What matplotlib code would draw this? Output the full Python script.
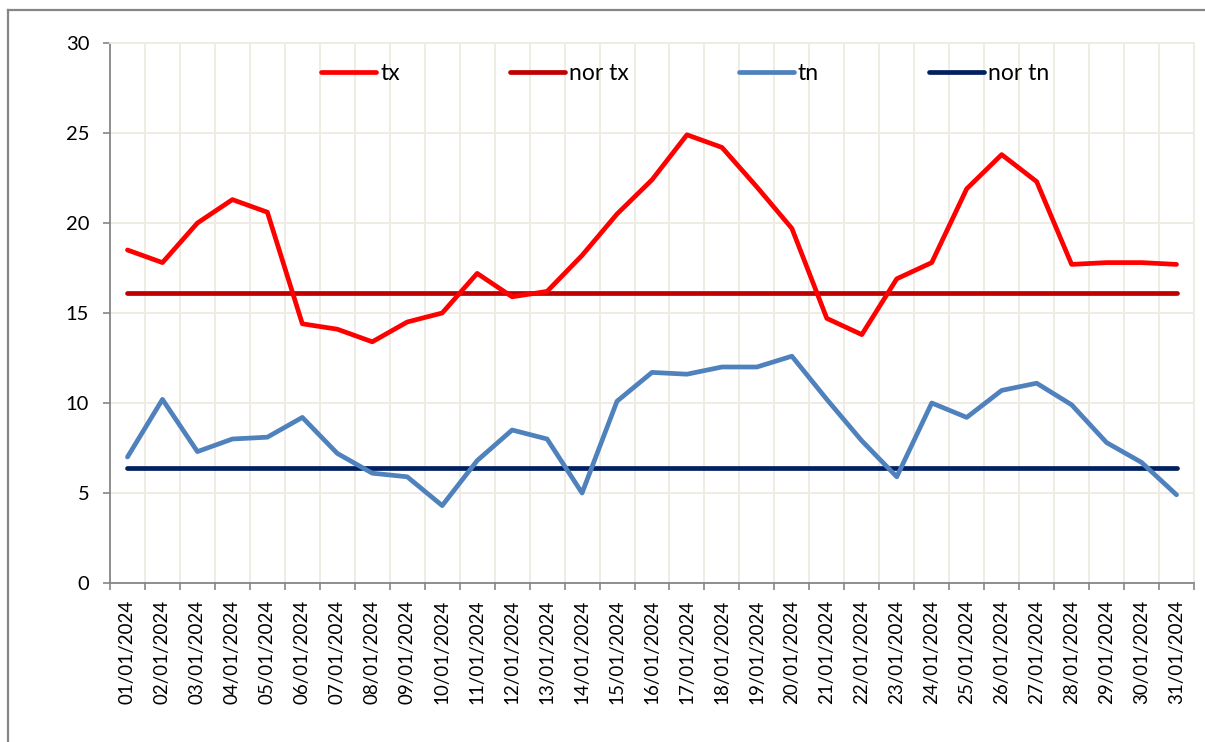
import matplotlib
matplotlib.use("Agg")
import matplotlib.pyplot as plt
from matplotlib.lines import Line2D
import numpy as np

plt.rcParams['font.family'] = ['Lato', 'DejaVu Sans']

dates = [f"{d:02d}/01/2024" for d in range(1, 32)]
tx = [18.5, 17.8, 20.0, 21.3, 20.6, 14.4, 14.1, 13.4, 14.5, 15.0, 17.2, 15.9, 16.2, 18.2, 20.5, 22.4,
      24.9, 24.2, 22.0, 19.7, 14.7, 13.8, 16.9, 17.8, 21.9, 23.8, 22.3, 17.7, 17.8, 17.8, 17.7]
nor_tx = [16.1] * 31
tn = [7.0, 10.2, 7.3, 8.0, 8.1, 9.2, 7.2, 6.1, 5.9, 4.3, 6.8, 8.5, 8.0, 5.0, 10.1, 11.7,
      11.6, 12.0, 12.0, 12.6, 10.2, 7.9, 5.9, 10.0, 9.2, 10.7, 11.1, 9.9, 7.8, 6.7, 4.9]
nor_tn = [6.4] * 31

W, H = 1205, 742
fig = plt.figure(figsize=(W / 100, H / 100), dpi=100)
ax = fig.add_axes([110 / W, 1 - 583 / H, (1194 - 110) / W, (583 - 43) / H])

# outer chart border (top and left visible)
fig.add_artist(Line2D([8 / W, 8 / W], [1 - 10 / H, -0.1], transform=fig.transFigure,
                      color='#868686', lw=1.6))
fig.add_artist(Line2D([8 / W, 1.1], [1 - 10 / H, 1 - 10 / H], transform=fig.transFigure,
                      color='#868686', lw=1.6))

x = np.arange(len(dates))
lw = 3.4
ax.plot(x, tx, color='#FF0000', lw=lw, label='tx', solid_capstyle='round', zorder=4)
ax.plot(x, nor_tx, color='#C00000', lw=lw, label='nor tx', solid_capstyle='round', zorder=3)
ax.plot(x, tn, color='#4F81BD', lw=lw, label='tn', solid_capstyle='round', zorder=4)
ax.plot(x, nor_tn, color='#002060', lw=lw, label='nor tn', solid_capstyle='round', zorder=3)

ax.set_xlim(-0.5, len(dates) - 0.5)
ax.set_ylim(0, 30)
ax.set_yticks(np.arange(0, 31, 5))
ax.set_xticks(x)
ax.set_xticklabels(dates, rotation=90, fontsize=13.5)
ax.set_xticks(np.arange(-0.5, len(dates), 1), minor=True)
ax.tick_params(axis='x', which='major', length=0, pad=12)
ax.tick_params(axis='x', which='minor', length=5, width=1.2, color='#868686')
ax.tick_params(axis='y', which='major', length=5, width=1.2, color='#868686', labelsize=14.5, pad=10)

grid_c = '#EEECE1'
ax.grid(True, axis='y', which='major', color=grid_c, lw=1.3, zorder=0)
ax.grid(True, axis='x', which='minor', color=grid_c, lw=1.3, zorder=0)
ax.grid(False, axis='x', which='major')
ax.set_axisbelow(True)

for s in ['left', 'bottom']:
    ax.spines[s].set_color('#868686')
    ax.spines[s].set_linewidth(1.3)
for s in ['top', 'right']:
    ax.spines[s].set_color(grid_c)
    ax.spines[s].set_linewidth(1.3)

leg = ax.legend(loc='center left', bbox_to_anchor=((321 - 110) / 1084, (583 - 74) / 540),
                ncol=4, frameon=False, fontsize=16.5, handlelength=2.4, handletextpad=0.18,
                columnspacing=4.8, borderpad=0, borderaxespad=0)

fig.savefig('out.png', dpi=100)
